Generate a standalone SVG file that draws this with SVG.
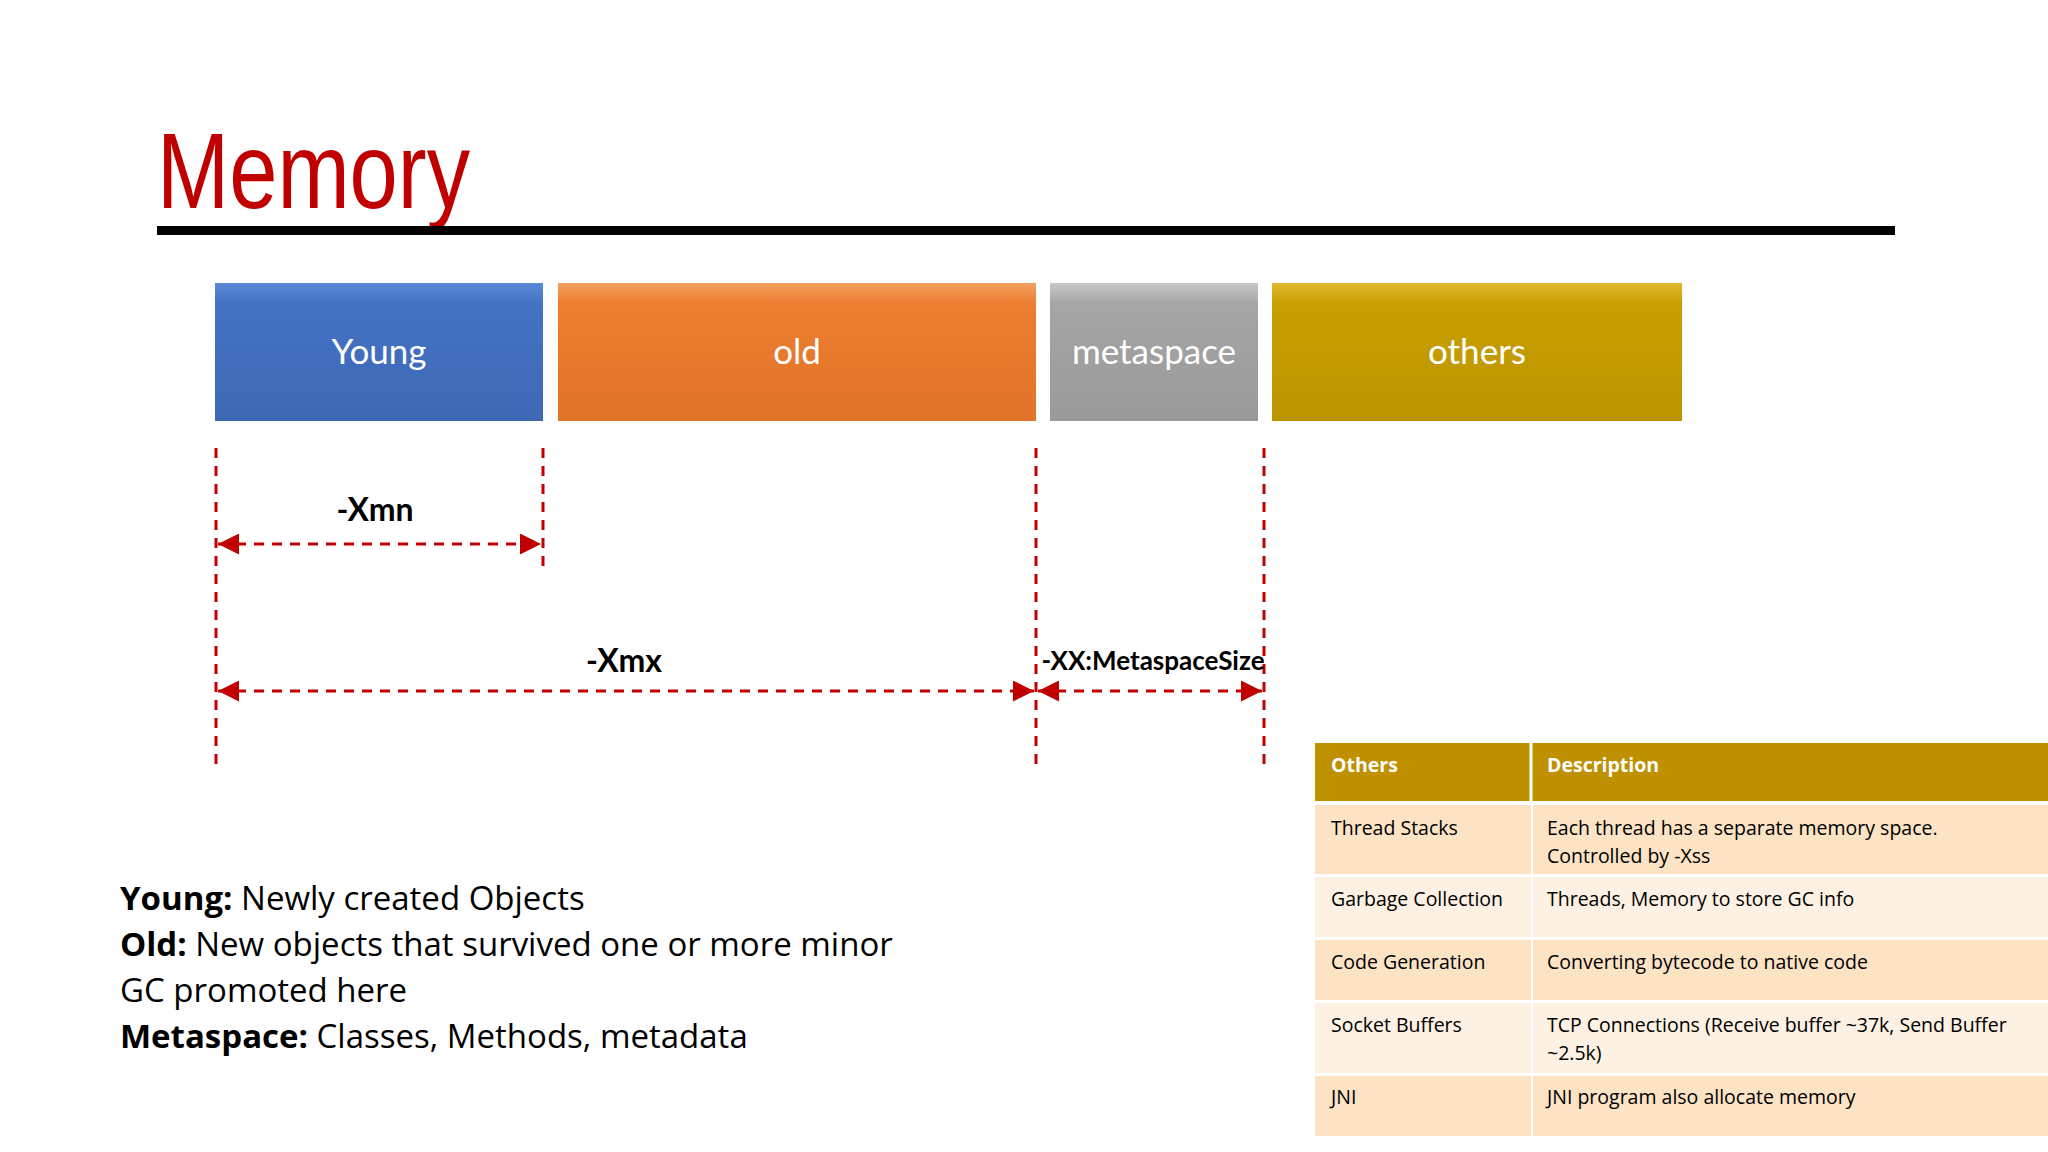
<svg xmlns="http://www.w3.org/2000/svg" width="2048" height="1152" viewBox="0 0 2048 1152">
<style>
.bt{font-family:Lato,"Open Sans",sans-serif;font-size:35px;fill:#fff;text-anchor:middle}
.dl{stroke:#C00000;stroke-width:3;stroke-dasharray:10 8;fill:none}
.lb{font-family:Lato,"Liberation Sans",sans-serif;font-weight:bold;fill:#000;text-anchor:middle}
.bl{font-family:"Open Sans","Liberation Sans",sans-serif;font-size:33px;fill:#000}
.tt{font-family:"Open Sans","Liberation Sans",sans-serif;font-size:19.5px;fill:#000}
.th{font-family:"Open Sans","Liberation Sans",sans-serif;font-size:19.5px;font-weight:bold;fill:#fff}
</style>
<defs>
<linearGradient id="gb" x1="0" y1="0" x2="0" y2="1"><stop offset="0" stop-color="#5a8ad6"/><stop offset="0.15" stop-color="#4472C4"/><stop offset="1" stop-color="#3d68b4"/></linearGradient>
<linearGradient id="go" x1="0" y1="0" x2="0" y2="1"><stop offset="0" stop-color="#f4a060"/><stop offset="0.15" stop-color="#ED7D31"/><stop offset="1" stop-color="#e07428"/></linearGradient>
<linearGradient id="gg" x1="0" y1="0" x2="0" y2="1"><stop offset="0" stop-color="#c8c8c8"/><stop offset="0.15" stop-color="#a5a5a5"/><stop offset="1" stop-color="#9a9a9a"/></linearGradient>
<linearGradient id="gy" x1="0" y1="0" x2="0" y2="1"><stop offset="0" stop-color="#e0b830"/><stop offset="0.15" stop-color="#C9A000"/><stop offset="1" stop-color="#bc9400"/></linearGradient>
<marker id="ah" viewBox="0 0 10 10" refX="10" refY="5" markerWidth="7" markerHeight="7" orient="auto-start-reverse" markerUnits="strokeWidth"><path d="M0,0 L10,5 L0,10 z" fill="#C00000"/></marker>
</defs>
<rect width="2048" height="1152" fill="#fff"/>
<text x="157" y="208" font-family="Liberation Sans,sans-serif" font-size="108" fill="#C00000" textLength="313" lengthAdjust="spacingAndGlyphs">Memory</text>
<rect x="157" y="226" width="1738" height="9" fill="#000"/>
<g id="young"><rect x="215" y="283" width="328" height="138" fill="url(#gb)"/><text class="bt" x="379" y="364">Young</text></g>
<g id="old"><rect x="558" y="283" width="478" height="138" fill="url(#go)"/><text class="bt" x="797" y="364">old</text></g>
<g id="metaspace"><rect x="1050" y="283" width="208" height="138" fill="url(#gg)"/><text class="bt" x="1154" y="364">metaspace</text></g>
<g id="others"><rect x="1272" y="283" width="410" height="138" fill="url(#gy)"/><text class="bt" x="1477" y="364">others</text></g>
<g id="connectors">
<line class="dl" x1="216" y1="448" x2="216" y2="771"/>
<line class="dl" x1="543" y1="448" x2="543" y2="572"/>
<line class="dl" x1="1036" y1="448" x2="1036" y2="771"/>
<line class="dl" x1="1264" y1="448" x2="1264" y2="771"/>
<line class="dl" x1="218" y1="544" x2="541" y2="544" marker-start="url(#ah)" marker-end="url(#ah)"/>
<line class="dl" x1="218" y1="691" x2="1034" y2="691" marker-start="url(#ah)" marker-end="url(#ah)"/>
<line class="dl" x1="1038" y1="691" x2="1262" y2="691" marker-start="url(#ah)" marker-end="url(#ah)"/>
</g>
<text class="lb" x="375" y="521" font-size="32">-Xmn</text>
<text class="lb" x="624" y="672" font-size="32">-Xmx</text>
<text class="lb" x="1153" y="670" font-size="26">-XX:MetaspaceSize</text>
<text class="bl" x="120" y="910"><tspan font-weight="bold">Young:</tspan> Newly created Objects</text>
<text class="bl" x="120" y="956"><tspan font-weight="bold">Old:</tspan> New objects that survived one or more minor</text>
<text class="bl" x="120" y="1002">GC promoted here</text>
<text class="bl" x="120" y="1048"><tspan font-weight="bold">Metaspace:</tspan> Classes, Methods, metadata</text>
<g id="table">
<rect x="1315" y="743" width="733" height="58" fill="#BF9000"/>
<line x1="1531" y1="743" x2="1531" y2="1136" stroke="#fff" stroke-width="3"/>
<rect x="1315" y="805" width="216" height="69" fill="#FBE3C4"/><rect x="1533" y="805" width="515" height="69" fill="#FBE3C4"/>
<rect x="1315" y="877" width="216" height="60" fill="#FDF1E3"/><rect x="1533" y="877" width="515" height="60" fill="#FDF1E3"/>
<rect x="1315" y="940" width="216" height="60" fill="#FBE3C4"/><rect x="1533" y="940" width="515" height="60" fill="#FBE3C4"/>
<rect x="1315" y="1003" width="216" height="70" fill="#FDF1E3"/><rect x="1533" y="1003" width="515" height="70" fill="#FDF1E3"/>
<rect x="1315" y="1076" width="216" height="60" fill="#FBE3C4"/><rect x="1533" y="1076" width="515" height="60" fill="#FBE3C4"/>
<text class="th" x="1331" y="772">Others</text><text class="th" x="1547" y="772">Description</text>
<text class="tt" x="1331" y="835">Thread Stacks</text>
<text class="tt" x="1547" y="835">Each thread has a separate memory space.</text>
<text class="tt" x="1547" y="863">Controlled by -Xss</text>
<text class="tt" x="1331" y="906">Garbage Collection</text><text class="tt" x="1547" y="906">Threads, Memory to store GC info</text>
<text class="tt" x="1331" y="969">Code Generation</text><text class="tt" x="1547" y="969">Converting bytecode to native code</text>
<text class="tt" x="1331" y="1032">Socket Buffers</text>
<text class="tt" x="1547" y="1032">TCP Connections (Receive buffer ~37k, Send Buffer</text>
<text class="tt" x="1547" y="1060">~2.5k)</text>
<text class="tt" x="1331" y="1104">JNI</text><text class="tt" x="1547" y="1104">JNI program also allocate memory</text>
</g>
</svg>
